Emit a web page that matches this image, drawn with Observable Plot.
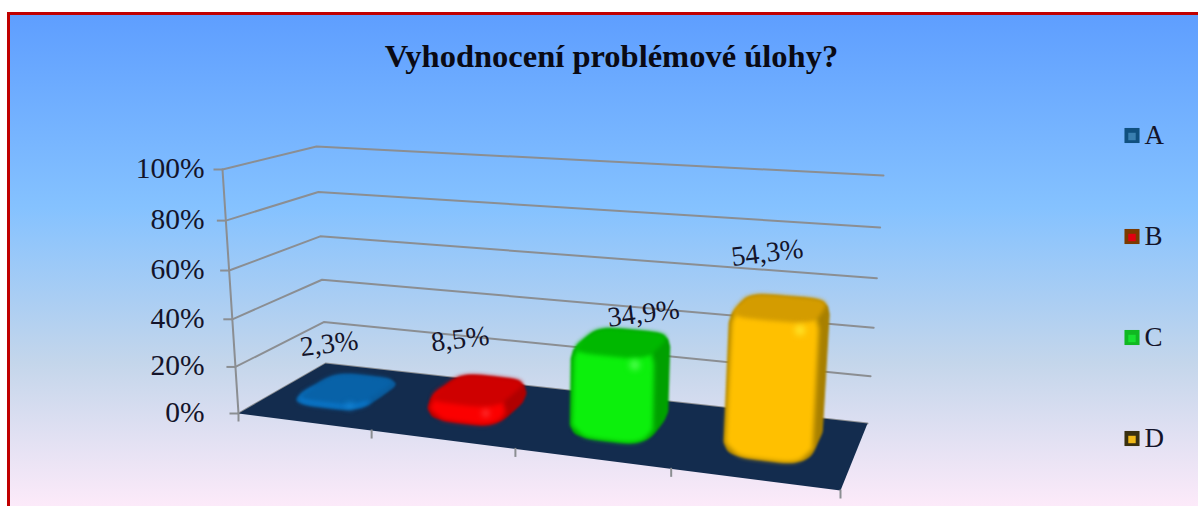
<!DOCTYPE html>
<html>
<head>
<meta charset="utf-8">
<script src="https://cdn.jsdelivr.net/npm/d3@7"></script>
<script src="https://cdn.jsdelivr.net/npm/@observablehq/plot@0.6"></script>
<style>
  html, body { margin: 0; padding: 0; background: #fff; }
  svg { display: block; }
</style>
</head>
<body>
<div id="chart"></div>
<script>
// Survey results, percent of answers per option.
const categories = ["A", "B", "C", "D"];
const shares = [2.3, 8.5, 34.9, 54.3];
const valueTicks = [0, 20, 40, 60, 80, 100];
const chartTitle = "Vyhodnocení problémové úlohy?";

// Shading per option: side, front, top, highlight, legend edge and core.
const palette = {
  A: {side: "#0a5b9c", front: "#0a7bd2", top: "#0862a8", light: "#1a90e0", edge: "#10507f", core: "#3a7fb0"},
  B: {side: "#b00000", front: "#fb0000", top: "#cf0000", light: "#ff5050", edge: "#7a3a00", core: "#e00010"},
  C: {side: "#00a000", front: "#0cf00c", top: "#00b800", light: "#50ff50", edge: "#10b822", core: "#18e030"},
  D: {side: "#a88000", front: "#ffc000", top: "#d49c00", light: "#ffe62a", edge: "#3a3010", core: "#f0b818"}
};

const width = 1198, height = 506;

// Perspective box of the chart: floor corners and wall tops on the canvas.
const box = {
  floor: {fl: [238, 413], fr: [840, 490], bl: [325, 363], br: [867, 423]},
  ceil:  {fl: [222, 169], fr: [859, 208], bl: [316, 146], br: [883, 175]}
};
const foreshorten = (t, k) => t / (t + k * (1 - t));
function project(c, d, v) {
  // c: category position 0..4, d: depth 0..1, v: percent 0..100
  const t = foreshorten(c / categories.length, 1.174);
  const s = foreshorten(d, 0.85);
  const u = foreshorten(v / 100, 1.06);
  const mix = (q) => [0, 1].map((i) =>
    (1 - s) * ((1 - t) * q.fl[i] + t * q.fr[i]) + s * ((1 - t) * q.bl[i] + t * q.br[i]));
  const a = mix(box.floor), b = mix(box.ceil);
  return [a[0] + u * (b[0] - a[0]), a[1] + u * (b[1] - a[1])];
}

// Footprint of a rounded column at a given height.
const barHalf = 0.28, depthHalf = 0.29, cornerPower = 0.5;
function ring(i, v, inset = 0, from = 0, to = 2 * Math.PI) {
  return d3.range(0, 49).map((j) => from + (to - from) * j / 48).map((a) => {
    const ca = Math.cos(a), sa = Math.sin(a);
    const c = i + 0.5 + (barHalf - inset) * Math.sign(ca) * Math.abs(ca) ** cornerPower;
    const d = 0.5 + (depthHalf - inset) * Math.sign(sa) * Math.abs(sa) ** cornerPower;
    return project(c, d, v);
  });
}
function column(i, v) {
  const r = Math.min(v / 2, 4);
  const pts = [
    ...ring(i, 0, 0.05), ...ring(i, r * 0.35, 0.015), ...ring(i, r, 0),
    ...ring(i, v - r, 0), ...ring(i, v - r * 0.35, 0.01), ...ring(i, v, 0.03)
  ];
  return d3.polygonHull(pts);
}
function frontFace(i, v) {
  const r = Math.min(v / 2, 4);
  const front = [Math.PI * 1.02, Math.PI * 1.92];
  const pts = [
    ...ring(i, 0, 0.06, ...front), ...ring(i, r, 0.01, ...front),
    ...ring(i, v - r, 0.015, ...front), ...ring(i, v, 0.04, ...front)
  ];
  return d3.polygonHull(pts);
}
const topFace = (i, v) => ring(i, v, 0.025);

const xy = {x: (p) => p[0], y: (p) => p[1]};
const shape = (pts, fill, extra = {}) =>
  Plot.line(pts, {...xy, fill, stroke: "none", curve: "linear-closed", ...extra});

const labelFor = (v) => v.toFixed(1).replace(".", ",") + "%";
const labelNudge = [[-18, -11], [-18, -17], [22, 5], [-13, -21]];

const defs = () => {
  const g = d3.create("svg:defs");
  g.html(`<linearGradient id="daybreak" x1="0" y1="0" x2="0" y2="1">
    <stop offset="0" stop-color="#5E9EFF"/>
    <stop offset="0.39" stop-color="#85C2FF"/>
    <stop offset="0.70" stop-color="#C4D6EB"/>
    <stop offset="1" stop-color="#FFEBFA"/>
  </linearGradient>`);
  return g.node();
};

const gridPath = (v) => [project(0, 0, v), project(0, 1, v), project(4, 1, v)];
const grid = valueTicks.flatMap((v) => gridPath(v).map((p) => ({v, p})));

const serif = "Liberation Serif, Times New Roman, serif";

const chart = Plot.plot({
  width, height,
  margin: 0,
  x: {domain: [0, width], range: [0, width], axis: null},
  y: {domain: [0, height], range: [0, height], axis: null},
  style: {fontFamily: serif, background: "#fff"},
  marks: [
    defs,
    Plot.frame({
      fill: "url(#daybreak)", stroke: "#c00000", strokeWidth: 3,
      insetLeft: 8, insetTop: 13, insetRight: -6, insetBottom: -6
    }),

    // Walls: grid lines bend at the back corner.
    Plot.line(grid, {
      x: (d) => d.p[0], y: (d) => d.p[1], z: "v",
      stroke: "#8b8e92", strokeWidth: 2
    }),
    Plot.line([project(0, 0, 0), project(0, 0, 100)], {...xy, stroke: "#8b8e92", strokeWidth: 2}),

    // Value axis: stubs and labels.
    Plot.link(valueTicks, {
      x1: (v) => project(0, 0, v)[0] - 9, x2: (v) => project(0, 0, v)[0],
      y1: (v) => project(0, 0, v)[1], y2: (v) => project(0, 0, v)[1],
      stroke: "#8b8e92", strokeWidth: 2
    }),
    Plot.text(valueTicks, {
      x: 204, y: (v) => project(0, 0, v)[1] - 1,
      text: (v) => `${v}%`, textAnchor: "end", fontSize: 29.5, fill: "#14142a"
    }),

    // Floor and category stubs.
    shape([project(0, 0, 0), project(4, 0, 0), project(4, 1, 0), project(0, 1, 0)], "#132c4e"),
    Plot.link(d3.range(0, 5), {
      x1: (c) => project(c, 0, 0)[0], x2: (c) => project(c, 0, 0)[0],
      y1: (c) => project(c, 0, 0)[1] - 1, y2: (c) => project(c, 0, 0)[1] + 8,
      stroke: "#8b8e92", strokeWidth: 2
    }),

    // Columns: dark silhouette, lit front, darker top, corner highlight.
    ...categories.flatMap((name, i) => {
      const v = shares[i], col = palette[name];
      const peak = project(i + 0.5 + barHalf * 0.6, 0.5 - depthHalf * 0.8, v - Math.min(v / 2, 4) * 0.8);
      return [
        shape(column(i, v), col.side, {imageFilter: "blur(1px)"}),
        shape(frontFace(i, v), col.front, {imageFilter: "blur(2.5px)"}),
        shape(topFace(i, v), col.top, {imageFilter: "blur(2px)"}),
        Plot.dot([peak], {...xy, r: v > 20 ? 5 : 3, fill: col.light, imageFilter: "blur(3px)"})
      ];
    }),

    // Value labels above the columns.
    Plot.text(shares, {
      x: (v, i) => project(i + 0.5, 0.5, v)[0] + labelNudge[i][0],
      y: (v, i) => project(i + 0.5, 0.5, v)[1] - 34 + labelNudge[i][1],
      text: labelFor, rotate: -7, fontSize: 28, fill: "#14142a"
    }),

    Plot.text([chartTitle], {
      x: 611, y: 56, text: (d) => d, fontSize: 32.5, fontWeight: "bold", fill: "#0a0a14"
    }),

    // Legend.
    Plot.dot(categories, {
      x: 1131.5, y: (d, i) => 135 + i * 101, symbol: "square", r: 8.5,
      fill: (d) => palette[d].edge
    }),
    Plot.dot(categories, {
      x: 1131.5, y: (d, i) => 136 + i * 101, symbol: "square", r: 4.2,
      fill: (d) => palette[d].core
    }),
    Plot.text(categories, {
      x: 1144, y: (d, i) => 135 + i * 101, text: (d) => d,
      textAnchor: "start", fontSize: 27, fill: "#14142a"
    })
  ]
});

document.getElementById("chart").append(chart);
</script>
</body>
</html>
